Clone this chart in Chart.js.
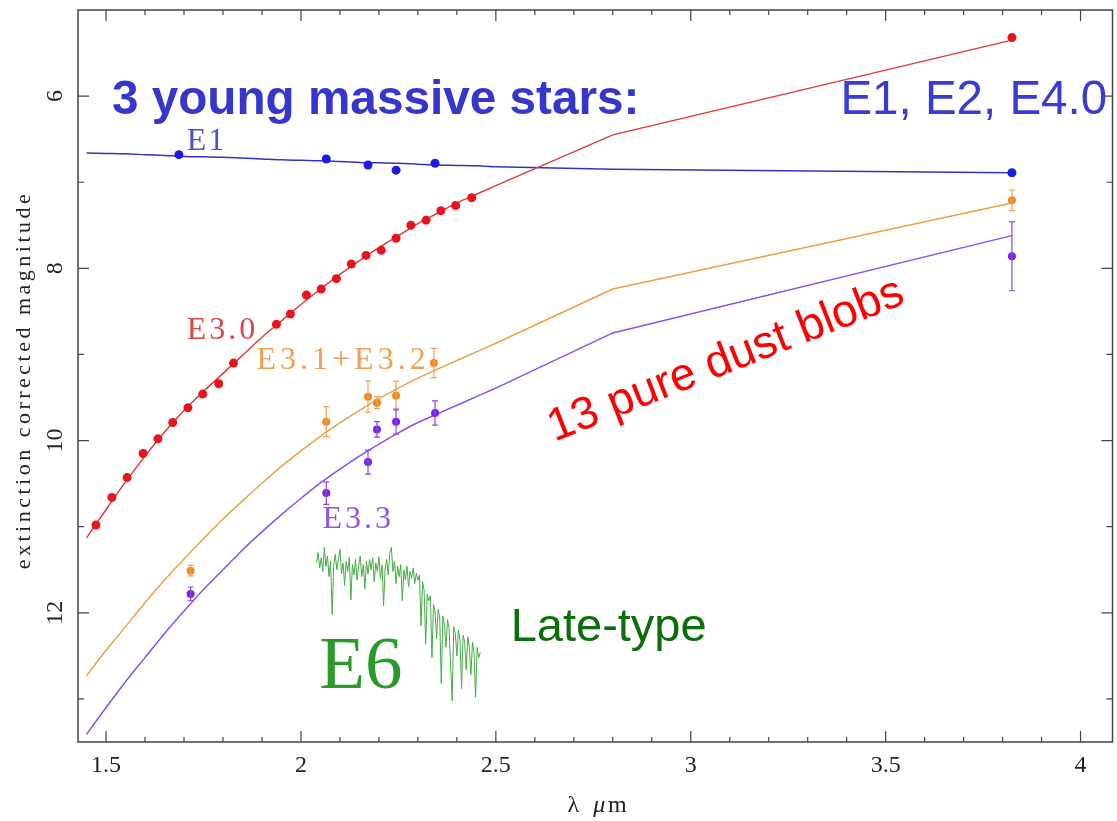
<!DOCTYPE html>
<html>
<head>
<meta charset="utf-8">
<script src="https://cdn.jsdelivr.net/npm/chart.js@4.4.1/dist/chart.umd.min.js"></script>
<style>
  html, body { margin: 0; padding: 0; background: #fff; }
  canvas { display: block; }
</style>
</head>
<body>
<canvas id="chart" width="1117" height="821"></canvas>
<script>
// measured magnitudes (lambda in micron)
const e30X = [1.474, 1.515, 1.554, 1.595, 1.633, 1.671, 1.710, 1.748, 1.789, 1.827, 1.937, 1.973, 2.014, 2.052, 2.091, 2.129, 2.167, 2.206, 2.244, 2.282, 2.321, 2.359, 2.397, 2.438, 3.824];
const e30Y = [10.98, 10.66, 10.43, 10.15, 9.98, 9.79, 9.62, 9.46, 9.34, 9.10, 8.65, 8.53, 8.31, 8.24, 8.12, 7.95, 7.85, 7.79, 7.65, 7.50, 7.44, 7.33, 7.27, 7.18, 5.32];

const e1X = [1.687, 2.065, 2.172, 2.244, 2.344, 3.824];
const e1Y = [6.68, 6.73, 6.80, 6.86, 6.78, 6.89];

const e31X = [1.717, 2.065, 2.172, 2.195, 2.244, 2.341, 3.824];
const e31Y = [11.51, 9.78, 9.49, 9.56, 9.48, 9.10, 7.21];
const e31Err = [0.06, 0.175, 0.18, 0.07, 0.17, 0.17, 0.12];

const e33X = [1.717, 2.065, 2.172, 2.195, 2.244, 2.344, 3.824];
const e33Y = [11.78, 10.61, 10.25, 9.87, 9.78, 9.68, 7.86];
const e33Err = [0.08, 0.13, 0.14, 0.09, 0.145, 0.14, 0.40];

// model curves
const fitX = [1.45, 1.50, 1.55, 1.60, 1.65, 1.70, 1.75, 1.80, 1.85, 1.90, 1.95, 2.00, 2.05, 2.10, 2.15, 2.20, 2.25, 2.30, 2.35, 2.40, 2.45, 2.50];
const redFitY    = [11.13, 10.80, 10.48, 10.18, 9.90, 9.65, 9.43, 9.22, 9.01, 8.80, 8.61, 8.42, 8.24, 8.07, 7.91, 7.76, 7.62, 7.48, 7.36, 7.24, 7.14, 7.04];
const orangeFitY = [12.73, 12.435, 12.16, 11.883, 11.62, 11.375, 11.14, 10.91, 10.70, 10.495, 10.30, 10.12, 9.95, 9.795, 9.65, 9.513, 9.39, 9.275, 9.17, 9.07, 8.97, 8.87];
const purpleFitY = [13.41, 13.10, 12.80, 12.52, 12.24, 11.98, 11.73, 11.50, 11.27, 11.06, 10.86, 10.67, 10.49, 10.33, 10.18, 10.04, 9.91, 9.79, 9.69, 9.59, 9.49, 9.39];
const blueFitY   = [6.66, 6.665, 6.67, 6.68, 6.69, 6.70, 6.705, 6.71, 6.72, 6.73, 6.74, 6.745, 6.75, 6.76, 6.77, 6.775, 6.78, 6.79, 6.80, 6.805, 6.81, 6.82];

const tailX = [2.50, 2.80, 3.824];
const redTailY    = [7.04, 6.45, 5.35];
const orangeTailY = [8.87, 8.24, 7.24];
const purpleTailY = [9.39, 8.75, 7.62];
const blueTailY   = [6.82, 6.85, 6.89];

// E6 late-type spectrum (inset)
const specX = [2.040, 2.044, 2.048, 2.052, 2.056, 2.060, 2.064, 2.068, 2.072, 2.076, 2.080, 2.084, 2.088, 2.092, 2.096, 2.100, 2.104, 2.108, 2.112, 2.116,
               2.120, 2.124, 2.128, 2.132, 2.136, 2.140, 2.144, 2.148, 2.152, 2.156, 2.160, 2.164, 2.168, 2.172, 2.176, 2.180, 2.184, 2.188, 2.192, 2.196,
               2.200, 2.204, 2.208, 2.212, 2.216, 2.220, 2.224, 2.228, 2.232, 2.236, 2.240, 2.244, 2.248, 2.252, 2.256, 2.260, 2.264, 2.268, 2.272, 2.276,
               2.280, 2.284, 2.288, 2.292, 2.296, 2.300, 2.304, 2.308, 2.312, 2.316, 2.320, 2.324, 2.328, 2.332, 2.336, 2.340, 2.344, 2.348, 2.352, 2.356,
               2.360, 2.364, 2.368, 2.372, 2.376, 2.380, 2.384, 2.388, 2.392, 2.396, 2.400, 2.404, 2.408, 2.412, 2.416, 2.420, 2.424, 2.428, 2.432, 2.436,
               2.440, 2.444, 2.448, 2.452, 2.456, 2.460];
const specY = [11.42, 11.30, 11.48, 11.36, 11.52, 11.24, 11.46, 11.34, 11.58, 11.40, 12.02, 11.45, 11.32, 11.50, 11.38, 11.26, 11.55, 11.42, 11.68, 11.40,
               11.52, 11.36, 11.85, 11.44, 11.56, 11.38, 11.62, 11.46, 11.34, 11.58, 11.44, 11.72, 11.40, 11.55, 11.38, 11.50, 11.36, 11.64, 11.42, 11.52,
               11.35, 11.60, 11.44, 11.92, 11.48, 11.38, 11.56, 11.30, 11.24, 11.52, 11.40, 11.66, 11.46, 11.58, 11.44, 11.86, 11.50, 11.62, 11.46, 11.70,
               11.52, 11.60, 11.48, 11.66, 11.54, 11.62, 11.56, 12.15, 11.64, 11.74, 12.36, 11.78, 11.86, 11.80, 12.52, 11.90, 11.98, 12.30, 11.96, 12.06,
               12.82, 12.04, 12.14, 12.40, 12.08, 12.18, 12.62, 13.02, 12.16, 12.24, 12.50, 12.20, 12.32, 12.88, 12.26, 12.34, 12.66, 12.28, 12.40, 12.72,
               12.34, 12.46, 12.98, 12.40, 12.52, 12.46];

// axis ticks
const xMajorTicks = [1.5, 2, 2.5, 3, 3.5, 4];
const xTickLabels = ['1.5', '2', '2.5', '3', '3.5', '4'];
const xMinorTicks = [1.6, 1.7, 1.8, 1.9, 2.1, 2.2, 2.3, 2.4, 2.6, 2.7, 2.8, 2.9, 3.1, 3.2, 3.3, 3.4, 3.6, 3.7, 3.8, 3.9];
const yMajorTicks = [6, 8, 10, 12];
const yTickLabels = ['6', '8', '10', '12'];
const yMinorTicks = [7, 9, 11, 13];

const pts = (xs, ys) => xs.map((x, i) => ({ x: x, y: ys[i] }));

const RED = '#e8141c', BLUE = '#1c1ce0', ORANGE = '#f08a1e', PURPLE = '#7a22e8';

const notes = [
  { text: '3 young massive stars:', x: 1.515, y: 6.21, font: 'bold 47.7px "Liberation Sans"', color: '#3636cc' },
  { text: 'E1, E2, E4.0', x: 3.384, y: 6.21, font: '47.5px "Liberation Sans"', color: '#3a3ad4' },
  { text: '13 pure dust blobs', x: 3.090, y: 9.07, font: '46px "Liberation Sans"', color: '#ff0000', rot: -21.5, align: 'center', base: 'middle' },
  { text: 'Late-type', x: 2.538, y: 12.33, font: '47px "Liberation Sans"', color: '#0a6e0a' },
  { text: 'E6', x: 2.047, y: 12.87, font: '75px "Liberation Serif"', color: '#2a9a2a' },
  { text: 'E1', x: 1.707, y: 6.62, font: '32px "Liberation Serif"', color: '#5050c8', spacing: 2 },
  { text: 'E3.0', x: 1.707, y: 8.82, font: '32px "Liberation Serif"', color: '#d84848', spacing: 3 },
  { text: 'E3.1+E3.2', x: 1.886, y: 9.17, font: '32px "Liberation Serif"', color: '#f0a050', spacing: 4 },
  { text: 'E3.3', x: 2.055, y: 11.01, font: '32px "Liberation Serif"', color: '#9a50e0', spacing: 3 }
];

const decor = {
  id: 'decor',
  afterDatasetsDraw(chart) {
    const ctx = chart.ctx, xs = chart.scales.x, ys = chart.scales.y;
    ctx.save();
    chart.data.datasets.forEach(ds => {
      if (!ds.yErr) return;
      ctx.strokeStyle = ds.errColor;
      ctx.lineWidth = 1.2;
      ds.data.forEach((p, i) => {
        const px = xs.getPixelForValue(p.x);
        const y1 = ys.getPixelForValue(p.y - ds.yErr[i]);
        const y2 = ys.getPixelForValue(p.y + ds.yErr[i]);
        ctx.beginPath();
        ctx.moveTo(px, y1); ctx.lineTo(px, y2);
        ctx.moveTo(px - 3, y1); ctx.lineTo(px + 3, y1);
        ctx.moveTo(px - 3, y2); ctx.lineTo(px + 3, y2);
        ctx.stroke();
      });
    });
    ctx.restore();
  },
  afterDraw(chart) {
    const ctx = chart.ctx, xs = chart.scales.x, ys = chart.scales.y, a = chart.chartArea;
    ctx.save();
    ctx.strokeStyle = '#444';
    ctx.lineWidth = 1.5;
    ctx.strokeRect(a.left, a.top, a.right - a.left, a.bottom - a.top);

    ctx.lineWidth = 1.2;
    ctx.beginPath();
    const xt = (v, len) => {
      const px = xs.getPixelForValue(v);
      ctx.moveTo(px, a.bottom); ctx.lineTo(px, a.bottom - len);
      ctx.moveTo(px, a.top); ctx.lineTo(px, a.top + len);
    };
    const yt = (v, len) => {
      const py = ys.getPixelForValue(v);
      ctx.moveTo(a.left, py); ctx.lineTo(a.left + len, py);
      ctx.moveTo(a.right, py); ctx.lineTo(a.right - len, py);
    };
    xMajorTicks.forEach(v => xt(v, 11));
    xMinorTicks.forEach(v => xt(v, 5));
    yMajorTicks.forEach(v => yt(v, 11));
    yMinorTicks.forEach(v => yt(v, 6));
    ctx.stroke();

    ctx.fillStyle = '#222';
    ctx.font = '24px "Liberation Serif"';
    ctx.textAlign = 'center';
    ctx.textBaseline = 'middle';
    xMajorTicks.forEach((v, i) => ctx.fillText(xTickLabels[i], xs.getPixelForValue(v), a.bottom + 24));
    yMajorTicks.forEach((v, i) => {
      ctx.save();
      ctx.translate(a.left - 22, ys.getPixelForValue(v));
      ctx.rotate(-Math.PI / 2);
      ctx.fillText(yTickLabels[i], 0, 0);
      ctx.restore();
    });

    // axis titles
    ctx.font = '22px "Liberation Serif"';
    ctx.save();
    ctx.translate(24, (a.top + a.bottom) / 2 + 4);
    ctx.rotate(-Math.PI / 2);
    ctx.letterSpacing = '3.5px';
    ctx.fillText('extinction corrected magnitude', 0, 0);
    ctx.restore();
    const cx = (a.left + a.right) / 2;
    ctx.font = '24px "Liberation Serif"';
    ctx.fillText('λ', cx - 22, 806);
    ctx.font = 'italic 24px "Liberation Serif"';
    ctx.fillText('μ', cx + 4, 806);
    ctx.font = '24px "Liberation Serif"';
    ctx.fillText('m', cx + 22, 806);

    notes.forEach(n => {
      ctx.save();
      ctx.font = n.font;
      ctx.fillStyle = n.color;
      ctx.textAlign = n.align || 'left';
      ctx.textBaseline = n.base || 'alphabetic';
      ctx.letterSpacing = (n.spacing || 0) + 'px';
      ctx.translate(xs.getPixelForValue(n.x), ys.getPixelForValue(n.y));
      if (n.rot) ctx.rotate(n.rot * Math.PI / 180);
      ctx.fillText(n.text, 0, 0);
      ctx.restore();
    });
    ctx.restore();
  }
};

const lineDs = (xs, ys, color, smooth) => ({
  data: pts(xs, ys),
  showLine: true,
  pointRadius: 0,
  borderColor: color,
  borderWidth: 1.5,
  cubicInterpolationMode: smooth ? 'monotone' : 'default',
  tension: 0,
  order: 5
});

const pointDs = (xs, ys, color, radius) => ({
  data: pts(xs, ys),
  showLine: false,
  pointRadius: radius,
  pointBorderWidth: 0,
  backgroundColor: color,
  borderColor: color,
  order: 1
});

const e31Ds = pointDs(e31X, e31Y, ORANGE, 4);
e31Ds.yErr = e31Err; e31Ds.errColor = '#f0a050';
const e33Ds = pointDs(e33X, e33Y, PURPLE, 4);
e33Ds.yErr = e33Err; e33Ds.errColor = '#8a48e4';

new Chart(document.getElementById('chart'), {
  type: 'scatter',
  data: {
    datasets: [
      pointDs(e30X, e30Y, RED, 4.5),
      pointDs(e1X, e1Y, BLUE, 4.5),
      e31Ds,
      e33Ds,
      lineDs(fitX, redFitY, '#e03a3a', true),
      lineDs(tailX, redTailY, '#e03a3a', false),
      lineDs(fitX, blueFitY, '#3434c4', true),
      lineDs(tailX, blueTailY, '#3434c4', false),
      lineDs(fitX, orangeFitY, '#f0a040', true),
      lineDs(tailX, orangeTailY, '#f0a040', false),
      lineDs(fitX, purpleFitY, '#8a50ee', true),
      lineDs(tailX, purpleTailY, '#8a50ee', false),
      Object.assign(lineDs(specX, specY, '#44ad44', false), { borderWidth: 1 })
    ]
  },
  options: {
    responsive: false,
    devicePixelRatio: 1,
    animation: false,
    layout: { padding: { left: 78, top: 10, right: 1, bottom: 79 } },
    scales: {
      x: { type: 'linear', min: 1.428, max: 4.082, display: false },
      y: { type: 'linear', min: 5.0, max: 13.5, reverse: true, display: false }
    },
    plugins: {
      legend: { display: false },
      tooltip: { enabled: false }
    }
  },
  plugins: [decor]
});
</script>
</body>
</html>
